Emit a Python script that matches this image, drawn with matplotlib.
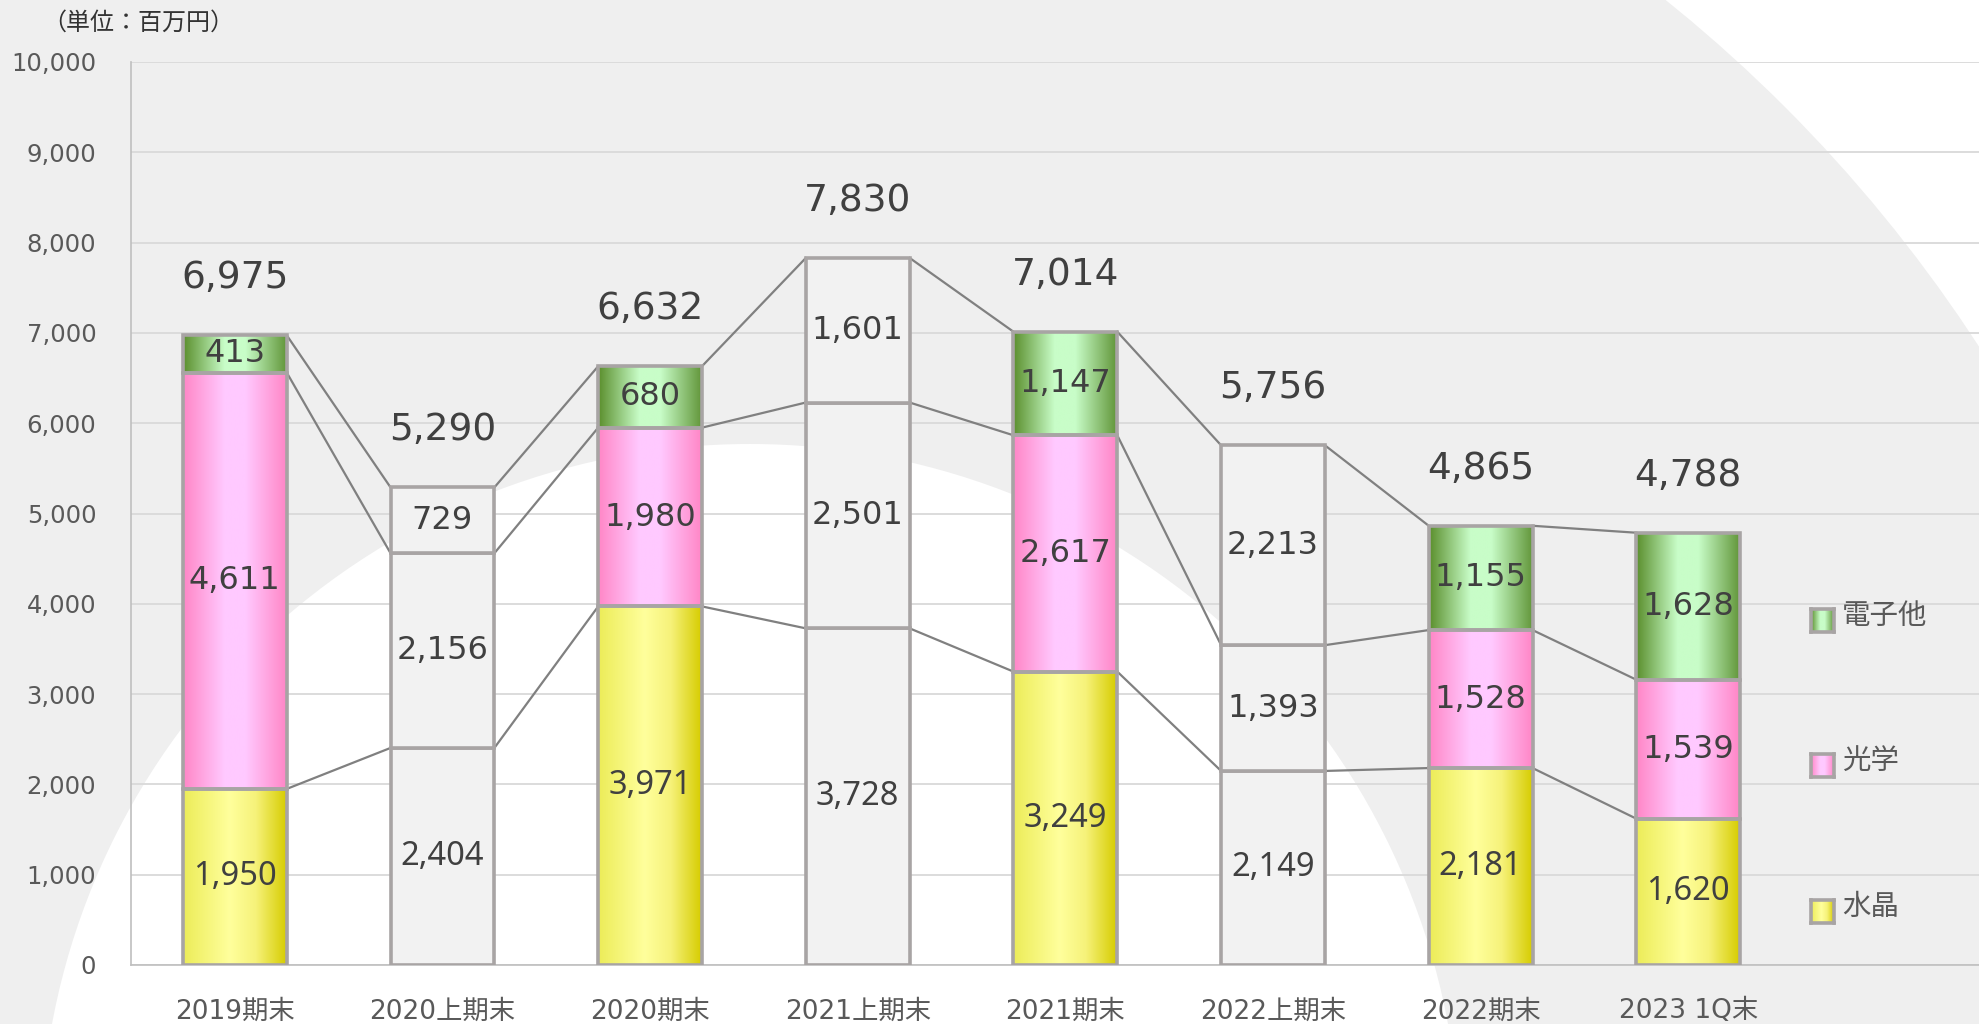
import numpy as np
import matplotlib
matplotlib.use('Agg')
import matplotlib.pyplot as plt
from matplotlib.colors import LinearSegmentedColormap
from matplotlib.patches import Circle
from matplotlib.transforms import IdentityTransform

plt.rcParams['font.family'] = ['DejaVu Sans', 'Noto Sans CJK JP']

# data (百万円)
categories = ['2019期末', '2020上期末', '2020期末', '2021上期末',
              '2021期末', '2022上期末', '2022期末', '2023 1Q末']
crystal = [1950, 2404, 3971, 3728, 3249, 2149, 2181, 1620]      # 水晶
optical = [4611, 2156, 1980, 2501, 2617, 1393, 1528, 1539]      # 光学
electronic = [413, 729, 680, 1601, 1147, 2213, 1155, 1628]      # 電子他
totals = [6975, 5290, 6632, 7830, 7014, 5756, 4865, 4788]
colored = [True, False, True, False, True, False, True, True]
series_names = ['水晶', '光学', '電子他']
y_ticks = list(range(0, 10001, 1000))

# horizontal gradients for the coloured segments
cmaps = [
    LinearSegmentedColormap.from_list('yel', [(0, '#ecec58'), (0.45, '#ffff9c'), (0.7, '#f6f27a'), (1, '#d6cc00')]),
    LinearSegmentedColormap.from_list('pnk', [(0, '#ff86c6'), (0.4, '#ffc9ff'), (0.6, '#ffc9ff'), (1, '#ff86c6')]),
    LinearSegmentedColormap.from_list('grn', [(0, '#5a8e2c'), (0.4, '#c8fdc8'), (0.6, '#c8fdc8'), (1, '#62963a')]),
]
grad = np.linspace(0, 1, 256).reshape(1, -1)

edge_col = '#a8a4a4'
text_col = '#404040'
tick_col = '#595959'
# bottom row labels are set in a narrower face in the original
label_fonts = [(['Noto Sans', 'DejaVu Sans'], 23.5), (['DejaVu Sans'], 23), (['DejaVu Sans'], 23)]

fig = plt.figure(figsize=(19.79, 10.24), dpi=100, facecolor='white')
# background rings
fig.add_artist(Circle((742, -126), 1475, transform=IdentityTransform(),
                      facecolor='#efefef', edgecolor='none', zorder=-2))
fig.add_artist(Circle((750, -130), 710, transform=IdentityTransform(),
                      facecolor='white', edgecolor='none', zorder=-1))

ax = fig.add_axes([131 / 1979, 59 / 1024, 1848 / 1979, 903 / 1024])
ax.patch.set_visible(False)

x = np.arange(len(categories))
series = [np.array(crystal), np.array(optical), np.array(electronic)]
bottom = np.zeros(len(categories))
tops = []
for k, vals in enumerate(series):
    fcs = ['none' if c else '#f2f2f2' for c in colored]
    bars = ax.bar(x, vals, 0.5, bottom=bottom, color=fcs, edgecolor=edge_col,
                  linewidth=2.6, zorder=3)
    fam, fs = label_fonts[k]
    for i, b in enumerate(bars):
        if colored[i]:
            x0, y0 = b.get_x(), b.get_y()
            ax.imshow(grad, cmap=cmaps[k], aspect='auto', zorder=2.5,
                      extent=[x0, x0 + b.get_width(), y0, y0 + b.get_height()])
        ax.text(x[i], bottom[i] + vals[i] / 2, f'{vals[i]:,}', ha='center',
                va='center', fontsize=fs, family=fam, color=text_col, zorder=5)
    bottom = bottom + vals
    tops.append(bottom.copy())

# connector lines between bars
for cum in tops:
    for i in range(len(x) - 1):
        ax.plot([x[i] + 0.25, x[i + 1] - 0.25], [cum[i], cum[i + 1]],
                color='#808080', lw=1.6, zorder=1.8)

for i, t in enumerate(totals):
    ax.annotate(f'{t:,}', (x[i], tops[-1][i]), xytext=(0, 41),
                textcoords='offset points', ha='center', va='center',
                fontsize=27, color=text_col)

ax.set_xlim(-0.5, 8.4)
ax.set_ylim(0, 10000)
ax.set_yticks(y_ticks)
ax.set_yticklabels([f'{v:,}' for v in y_ticks])
ax.set_xticks(x)
ax.set_xticklabels(categories)
ax.tick_params(axis='y', length=0, pad=25, labelsize=17.5, labelcolor=tick_col)
ax.tick_params(axis='x', length=0, pad=24, labelsize=19, labelcolor=tick_col)
ax.yaxis.grid(True, color='#d9d9d9', lw=1.3)
ax.set_axisbelow(True)
for s in ['top', 'right']:
    ax.spines[s].set_visible(False)
for s in ['left', 'bottom']:
    ax.spines[s].set_color('#bfbfbf')
    ax.spines[s].set_linewidth(1.2)

fig.text(42 / 1979, 1 - 23 / 1024, '（単位：百万円）', fontsize=17.3,
         va='center', ha='left', color='#333333')

# legend, drawn by hand to keep the gradient swatches
leg_y = [911, 765, 620]
for k, name in enumerate(series_names):
    yc = leg_y[k]
    lax = fig.add_axes([1811 / 1979, (1024 - yc - 11.5) / 1024, 23 / 1979, 23 / 1024])
    lax.imshow(grad, cmap=cmaps[k], aspect='auto')
    lax.set_xticks([])
    lax.set_yticks([])
    for sp in lax.spines.values():
        sp.set_color(edge_col)
        sp.set_linewidth(2.6)
    fig.text(1842 / 1979, (1024 - yc + 4) / 1024, name, fontsize=20.5,
             va='center', ha='left', color=tick_col)

fig.savefig('out.png', dpi=100)
